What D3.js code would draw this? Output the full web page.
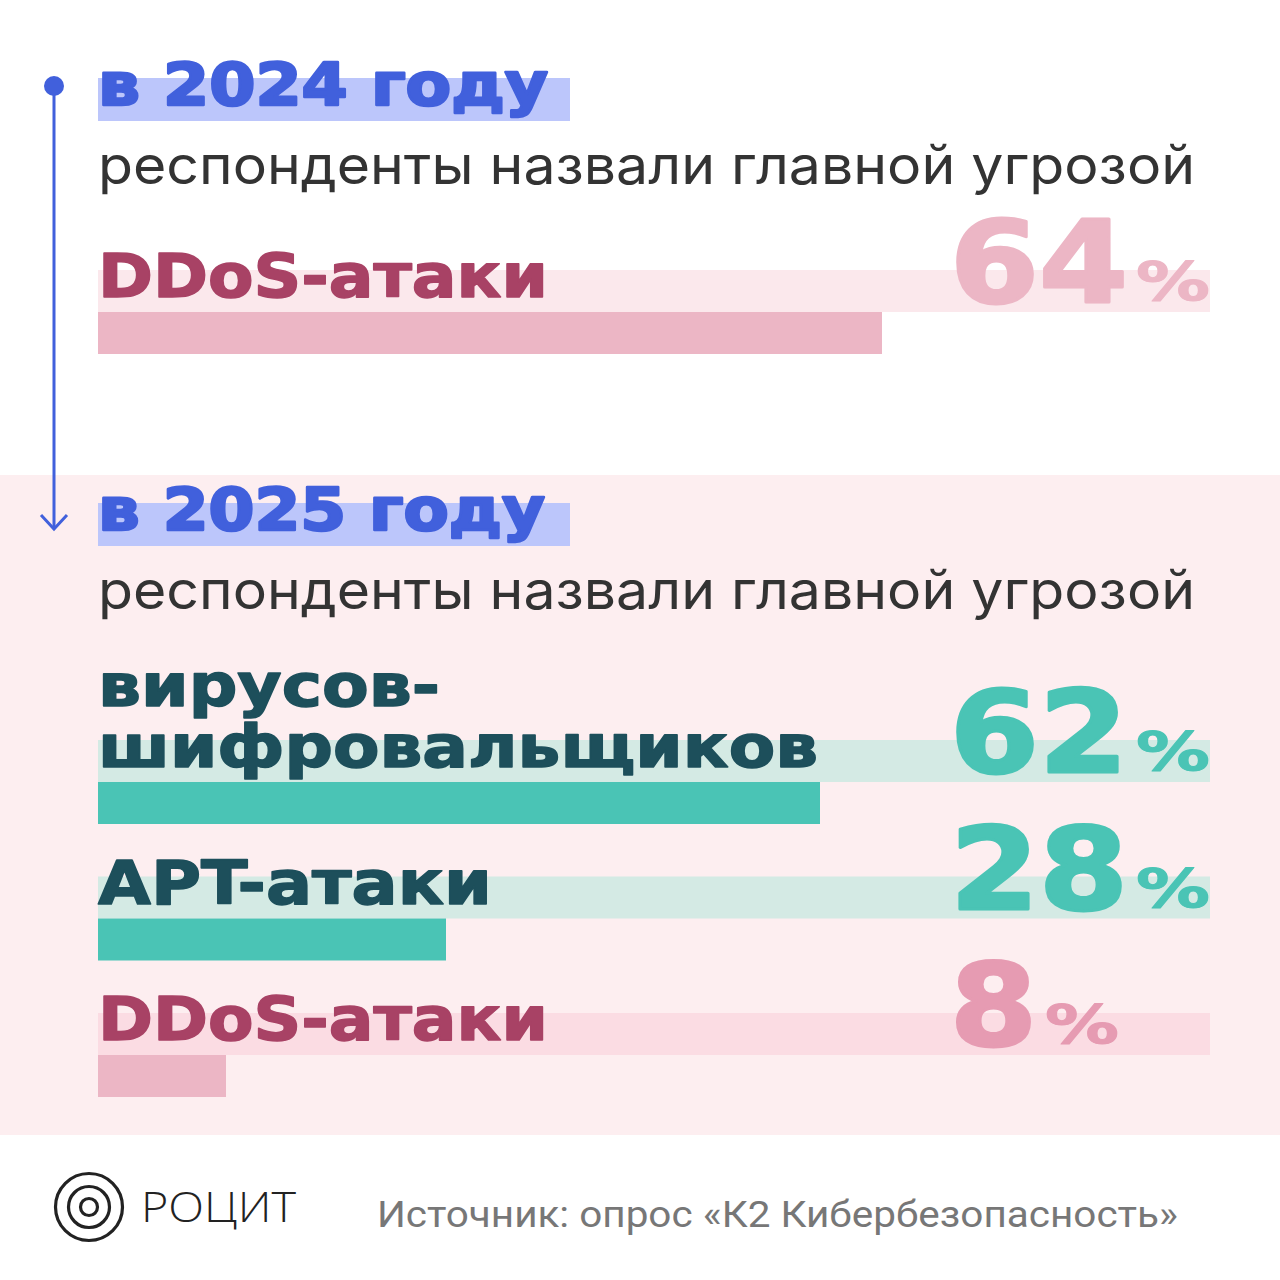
<!DOCTYPE html>
<html>
<head>
<meta charset="utf-8">
<script src="https://cdn.jsdelivr.net/npm/d3@7"></script>
<style>
  html, body { margin: 0; padding: 0; background: #fff; }
  svg { display: block; }
</style>
</head>
<body>
<script>
// data
const years = ["в 2024 году", "в 2025 году"];
const subtitle = "респонденты назвали главной угрозой";
const threats2024 = ["DDoS-атаки"];
const values2024 = [64];
const threats2025 = ["вирусов-шифровальщиков", "APT-атаки", "DDoS-атаки"];
const labelLines2025 = [["вирусов-", "шифровальщиков"], ["APT-атаки"], ["DDoS-атаки"]];
const values2025 = [62, 28, 8];
const brand = "РОЦИТ";
const source = "Источник: опрос «К2 Кибербезопасность»";

const W = 1280, H = 1280;
const left = 98, trackRight = 1210;
const wideFont = "'DejaVu Sans', sans-serif";
const bodyFont = "Inter, 'Noto Sans', sans-serif";

const colors = {
  blue: "#4160dc", blueHi: "#bcc6fb",
  text: "#333333",
  teal: "#4ac4b5", tealTrack: "#d4eae4", tealDark: "#1d4f5b",
  pink: "#ecb6c5", pinkTrackW: "#fbe8ec", pinkTrack: "#fbdce3",
  pinkDark: "#a84265", pinkNum: "#e69bb2", bg2025: "#fdeef0"
};

// measured label widths (style only)
const labelWidth = {
  "DDoS-атаки": 450, "вирусов-": 342, "шифровальщиков": 720, "APT-атаки": 394
};

const svg = d3.select("body").append("svg")
  .attr("width", W)
  .attr("height", H);

// 2025 panel background
svg.append("rect")
  .attr("x", 0).attr("y", 475)
  .attr("width", W).attr("height", 660)
  .attr("fill", colors.bg2025);

// timeline
svg.append("line")
  .attr("x1", 54).attr("y1", 86)
  .attr("x2", 54).attr("y2", 528)
  .attr("stroke", colors.blue).attr("stroke-width", 3);
svg.append("circle")
  .attr("cx", 54).attr("cy", 86).attr("r", 10)
  .attr("fill", colors.blue);
svg.append("path")
  .attr("d", d3.line()([[41, 515], [54, 529], [67, 515]]))
  .attr("fill", "none")
  .attr("stroke", colors.blue).attr("stroke-width", 3)
  .attr("stroke-linejoin", "miter");

function fit(sel, w) {
  return sel.attr("textLength", w).attr("lengthAdjust", "spacingAndGlyphs");
}
// thicken the bold display face a little
function heavy(sel, color, sw) {
  return sel.attr("fill", color).attr("stroke", color)
    .attr("stroke-width", sw).attr("stroke-linejoin", "round");
}

// year headings
const headY = d3.scaleOrdinal().domain(years).range([105, 530]);
const headW = d3.scaleOrdinal().domain(years).range([450, 447]);
years.forEach(y => {
  svg.append("rect")
    .attr("x", left).attr("y", headY(y) - 27)
    .attr("width", 472).attr("height", 43)
    .attr("fill", colors.blueHi);
  heavy(fit(svg.append("text")
    .attr("x", left).attr("y", headY(y))
    .attr("font-family", wideFont).attr("font-weight", 700)
    .attr("font-size", 58)
    .text(y), headW(y)), colors.blue, 2.5);
  fit(svg.append("text")
    .attr("x", left).attr("y", headY(y) + 79)
    .attr("font-family", bodyFont).attr("font-weight", 400)
    .attr("font-size", 53).attr("fill", colors.text)
    .text(subtitle), 1097);
});

// scales
const x2024 = d3.scaleLinear().domain([0, 100]).range([0, 1225]);
const x2025 = d3.scaleLinear().domain([0, 100]).range([40, 1140]);
const y2024 = d3.scalePoint().domain(threats2024).range([270, 270]);
const y2025 = d3.scalePoint().domain(threats2025).range([740, 1013]);

function drawRow(g, name, lines, value, xs, trackTop, pal) {
  const th = 42;
  g.append("rect")
    .attr("x", left).attr("y", trackTop)
    .attr("width", trackRight - left).attr("height", th)
    .attr("fill", pal.track);
  g.append("rect")
    .attr("x", left).attr("y", trackTop + th)
    .attr("width", xs(value)).attr("height", th)
    .attr("fill", pal.bar);

  const multi = lines.length > 1;
  const label = g.append("text")
    .attr("font-family", wideFont).attr("font-weight", 700)
    .attr("font-size", multi ? 58 : 60);
  heavy(label, pal.label, 1.5);
  lines.forEach((ln, i) => {
    fit(label.append("tspan")
      .attr("x", left)
      .attr("y", trackTop + 27 - (lines.length - 1 - i) * 61)
      .text(ln), labelWidth[ln]);
  });

  const num = String(value);
  const nw = num.length * 91;
  heavy(fit(g.append("text")
    .attr("x", 950).attr("y", trackTop + 32)
    .attr("font-family", wideFont).attr("font-weight", 700)
    .attr("font-size", 114)
    .text(num), nw - 4), pal.num, 3);
  heavy(fit(g.append("text")
    .attr("x", 948 + nw + 6).attr("y", trackTop + 30)
    .attr("font-family", wideFont).attr("font-weight", 700)
    .attr("font-size", 54)
    .text("%"), 74), pal.num, 1);
}

const pal2024 = { track: colors.pinkTrackW, bar: colors.pink, label: colors.pinkDark, num: colors.pink };
threats2024.forEach((t, i) => {
  drawRow(svg.append("g"), t, [t], values2024[i], x2024, y2024(t), pal2024);
});

threats2025.forEach((t, i) => {
  const isDdos = t.startsWith("DDoS");
  const pal = isDdos
    ? { track: colors.pinkTrack, bar: colors.pink, label: colors.pinkDark, num: colors.pinkNum }
    : { track: colors.tealTrack, bar: colors.teal, label: colors.tealDark, num: colors.teal };
  drawRow(svg.append("g"), t, labelLines2025[i], values2025[i], x2025, y2025(t), pal);
});

// footer
const logo = svg.append("g").attr("transform", "translate(89,1207)");
[35, 22, 10].forEach(r => {
  logo.append("circle")
    .attr("r", r - 1.5)
    .attr("fill", "none")
    .attr("stroke", "#222")
    .attr("stroke-width", 3.2);
});
fit(svg.append("text")
  .attr("x", 141).attr("y", 1222)
  .attr("font-family", "'Open Sans', Lato, sans-serif").attr("font-weight", 300)
  .attr("font-size", 42).attr("fill", "#222")
  .text(brand), 155);
fit(svg.append("text")
  .attr("x", 377).attr("y", 1227)
  .attr("font-family", "Roboto, 'Noto Sans', sans-serif").attr("font-weight", 400)
  .attr("font-size", 36).attr("fill", "#777")
  .text(source), 801);
</script>
</body>
</html>
